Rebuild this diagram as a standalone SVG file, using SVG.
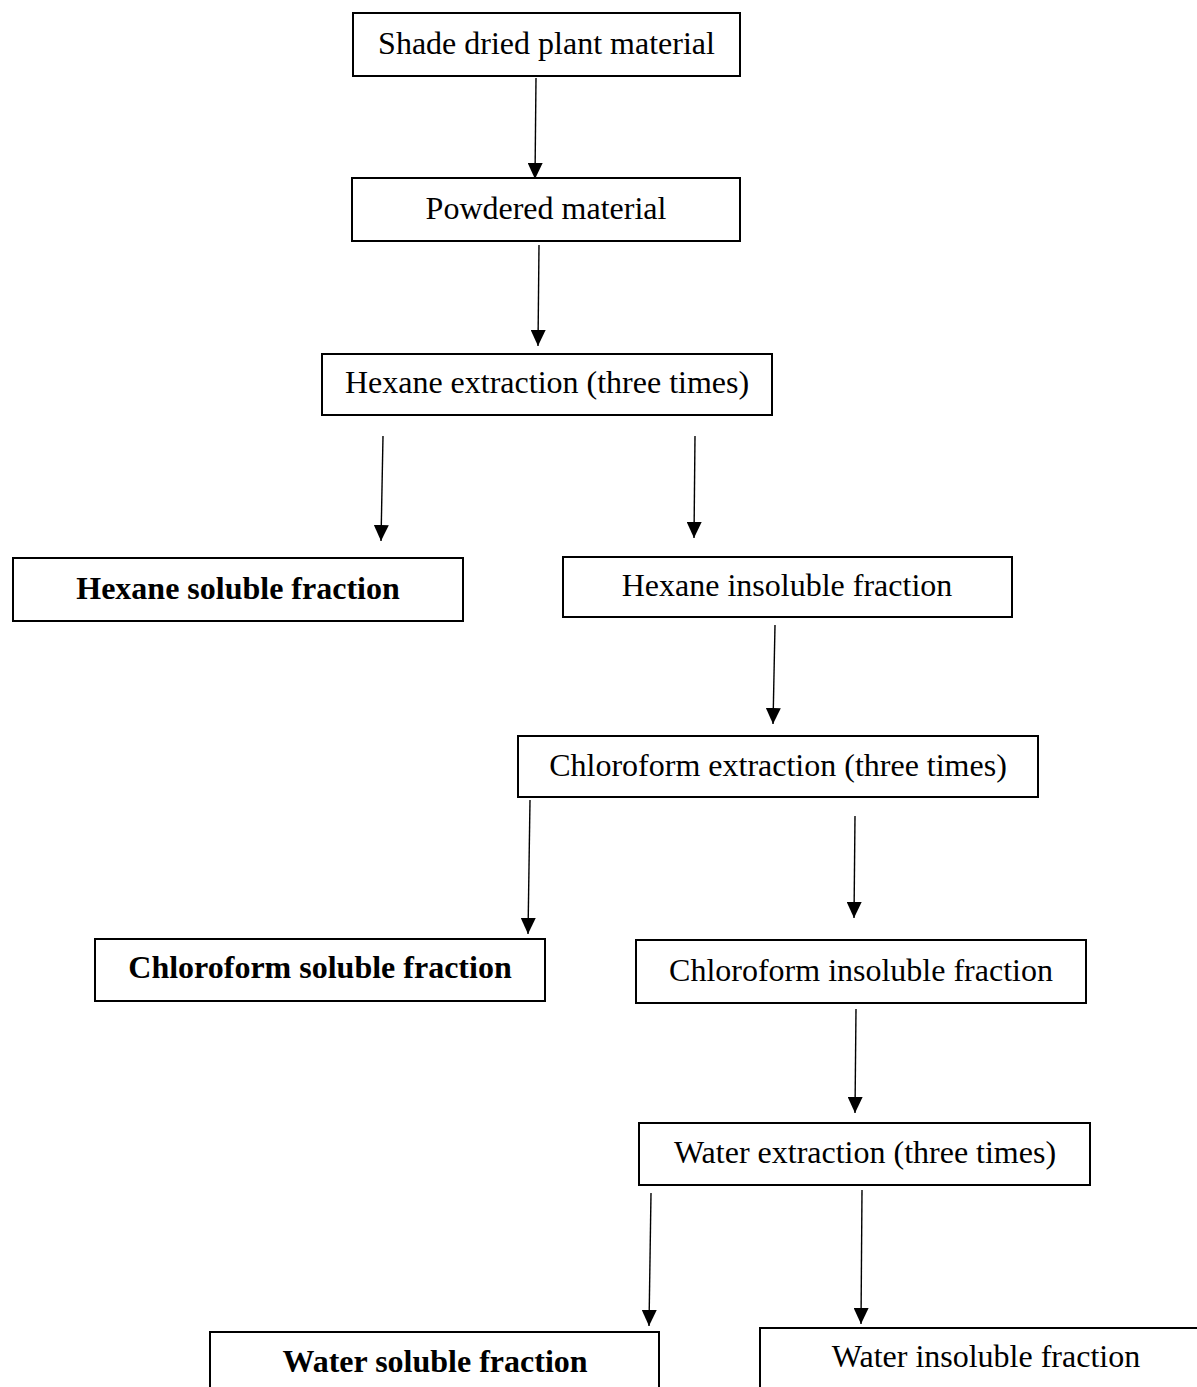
<svg xmlns="http://www.w3.org/2000/svg" width="1197" height="1387" viewBox="0 0 1197 1387">
<style>
.box{fill:#fff;stroke:#000;stroke-width:2}
.t{font-family:"Liberation Serif","Times New Roman",serif;font-size:32px;fill:#000;text-anchor:middle}
.b{font-weight:bold}
.c{stroke:#000;stroke-width:1.4;fill:none;marker-end:url(#ah)}
</style>
<defs>
<marker id="ah" markerUnits="userSpaceOnUse" markerWidth="17" markerHeight="15" viewBox="0 0 17 15" refX="16" refY="7.5" orient="auto">
<path d="M0,0 L16,7.5 L0,15 z" fill="#000"/>
</marker>
</defs>
<rect width="1197" height="1387" fill="#fff"/>
<g id="connectors">
<line class="c" x1="536" y1="78" x2="535" y2="179"/>
<line class="c" x1="539" y1="245" x2="538" y2="346"/>
<line class="c" x1="383" y1="436" x2="381" y2="541"/>
<line class="c" x1="695" y1="436" x2="694" y2="538"/>
<line class="c" x1="775" y1="625" x2="773" y2="724"/>
<line class="c" x1="530" y1="800" x2="528" y2="934"/>
<line class="c" x1="855" y1="816" x2="854" y2="918"/>
<line class="c" x1="856" y1="1009" x2="855" y2="1113"/>
<line class="c" x1="651" y1="1193" x2="649" y2="1326"/>
<line class="c" x1="862" y1="1190" x2="861" y2="1324"/>
</g>
<g id="n1"><rect class="box" x="353" y="13" width="387" height="63"/><text class="t" x="546.5" y="54">Shade dried plant material</text></g>
<g id="n2"><rect class="box" x="352" y="178" width="388" height="63"/><text class="t" x="546" y="219">Powdered material</text></g>
<g id="n3"><rect class="box" x="322" y="354" width="450" height="61"/><text class="t" x="547" y="393">Hexane extraction (three times)</text></g>
<g id="n4"><rect class="box" x="13" y="558" width="450" height="63"/><text class="t b" x="238" y="599">Hexane soluble fraction</text></g>
<g id="n5"><rect class="box" x="563" y="557" width="449" height="60"/><text class="t" x="787" y="596">Hexane insoluble fraction</text></g>
<g id="n6"><rect class="box" x="518" y="736" width="520" height="61"/><text class="t" x="778" y="776">Chloroform extraction (three times)</text></g>
<g id="n7"><rect class="box" x="95" y="939" width="450" height="62"/><text class="t b" x="320" y="978">Chloroform soluble fraction</text></g>
<g id="n8"><rect class="box" x="636" y="940" width="450" height="63"/><text class="t" x="861" y="981">Chloroform insoluble fraction</text></g>
<g id="n9"><rect class="box" x="639" y="1123" width="451" height="62"/><text class="t" x="865" y="1163">Water extraction (three times)</text></g>
<g id="n10"><rect class="box" x="210" y="1332" width="449" height="80"/><text class="t b" x="435" y="1372">Water soluble fraction</text></g>
<g id="n11"><rect class="box" x="760" y="1328" width="452" height="80"/><text class="t" x="986" y="1367">Water insoluble fraction</text></g>
</svg>
